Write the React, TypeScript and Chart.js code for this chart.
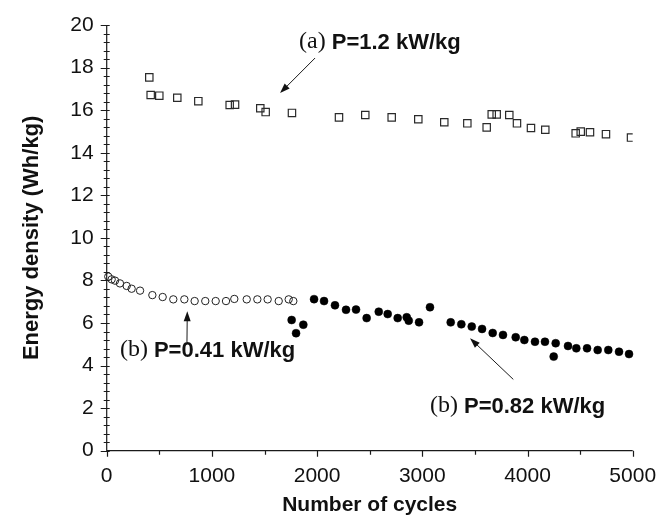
import React, { useEffect, useRef } from "react";
import { Chart, registerables } from "chart.js";

Chart.register(...registerables);

// P = 1.2 kW/kg (open squares)
const cyclesA = [405, 418, 500, 671, 871, 1169, 1220, 1460, 1511, 1761, 2208, 2458, 2709, 2962, 3209, 3428, 3612, 3660, 3707, 3827, 3900, 4033, 4169, 4458, 4506, 4594, 4746, 4984];
const energyA = [17.54, 16.71, 16.68, 16.58, 16.42, 16.24, 16.26, 16.09, 15.91, 15.87, 15.66, 15.77, 15.66, 15.57, 15.43, 15.38, 15.19, 15.8, 15.8, 15.77, 15.38, 15.16, 15.08, 14.91, 14.99, 14.96, 14.87, 14.71];

// P = 0.41 kW/kg (open circles)
const cyclesB1 = [15, 47, 79, 126, 190, 237, 317, 434, 532, 633, 738, 836, 937, 1036, 1134, 1213, 1331, 1432, 1530, 1635, 1730, 1774];
const energyB1 = [8.18, 8.05, 7.99, 7.86, 7.74, 7.61, 7.52, 7.31, 7.22, 7.11, 7.11, 7.03, 7.03, 7.03, 7.03, 7.13, 7.11, 7.11, 7.11, 7.03, 7.11, 7.03];

// P = 0.82 kW/kg (filled circles)
const cyclesB2 = [1758, 1800, 1869, 1971, 2066, 2170, 2275, 2370, 2471, 2586, 2671, 2766, 2852, 2871, 2969, 3073, 3270, 3371, 3470, 3568, 3669, 3767, 3888, 3970, 4071, 4166, 4249, 4268, 4385, 4464, 4566, 4667, 4768, 4870, 4965];
const energyB2 = [6.14, 5.52, 5.92, 7.12, 7.03, 6.83, 6.62, 6.63, 6.23, 6.53, 6.42, 6.23, 6.27, 6.11, 6.03, 6.74, 6.03, 5.94, 5.83, 5.72, 5.53, 5.44, 5.33, 5.2, 5.12, 5.12, 4.42, 5.05, 4.92, 4.81, 4.81, 4.73, 4.73, 4.65, 4.54];

const xTickValues = [0, 1000, 2000, 3000, 4000, 5000];
const yTickValues = [0, 2, 4, 6, 8, 10, 12, 14, 16, 18, 20];

const xTitle = "Number of cycles";
const yTitle = "Energy density (Wh/kg)";

// annotations in data units
const annoPrefix = ["(a)", "(b)", "(b)"];
const annoText = ["P=1.2 kW/kg", "P=0.41 kW/kg", "P=0.82 kW/kg"];
const annoTextX = [1829, 126, 3073];
const annoTextY = [19.2, 4.73, 2.1];
const annoTail = [[1981, 18.45], [763, 5.1], [3865, 3.35]];
const annoTip = [[1648, 16.8], [766, 6.55], [3454, 5.28]];

const toPts = (xs: number[], ys: number[]) => xs.map((x, i) => ({ x, y: ys[i] }));

const SANS = "'Liberation Sans', Arial, Helvetica, sans-serif";
const SERIF = "'Liberation Serif', 'Times New Roman', serif";

const axesPlugin = {
  id: "axesDraw",
  afterDraw(chart: any) {
    const { ctx, chartArea: a } = chart;
    const x = chart.scales.x;
    const y = chart.scales.y;
    ctx.save();
    ctx.strokeStyle = "#1a1a1a";
    ctx.lineWidth = 1.2;
    ctx.beginPath();
    ctx.moveTo(a.left, a.top);
    ctx.lineTo(a.left, a.bottom);
    ctx.lineTo(a.right, a.bottom);
    for (let i = 0; i <= 50; i++) {
      const v = i * 0.4;
      const py = Math.round(y.getPixelForValue(v)) + 0.5;
      const major = i % 5 === 0;
      ctx.moveTo(a.left - (major ? 6 : 3), py);
      ctx.lineTo(a.left + 3, py);
    }
    for (let i = 0; i <= 10; i++) {
      const v = i * 500;
      const px = Math.round(x.getPixelForValue(v)) + 0.5;
      const major = i % 2 === 0;
      ctx.moveTo(px, a.bottom);
      ctx.lineTo(px, a.bottom + (major ? 6 : 4));
    }
    ctx.stroke();

    ctx.fillStyle = "#111";
    ctx.font = `bold 21px ${SANS}`;
    ctx.textAlign = "center";
    ctx.textBaseline = "middle";
    ctx.fillText(xTitle, (a.left + a.right) / 2, 505);
    ctx.save();
    ctx.translate(32, (a.top + a.bottom) / 2);
    ctx.rotate(-Math.PI / 2);
    ctx.font = `bold 22px ${SANS}`;
    ctx.fillText(yTitle, 0, 0);
    ctx.restore();

    for (let k = 0; k < annoText.length; k++) {
      const tx = x.getPixelForValue(annoTextX[k]);
      const ty = y.getPixelForValue(annoTextY[k]);
      ctx.textAlign = "left";
      ctx.textBaseline = "middle";
      ctx.font = `24px ${SERIF}`;
      const pre = annoPrefix[k] + " ";
      ctx.fillText(pre, tx, ty);
      const w = ctx.measureText(pre).width;
      ctx.font = `bold 22px ${SANS}`;
      ctx.fillText(annoText[k], tx + w, ty + 0.5);

      const x0 = x.getPixelForValue(annoTail[k][0]);
      const y0 = y.getPixelForValue(annoTail[k][1]);
      const x1 = x.getPixelForValue(annoTip[k][0]);
      const y1 = y.getPixelForValue(annoTip[k][1]);
      const ang = Math.atan2(y1 - y0, x1 - x0);
      const hl = 10, hw = 3.5;
      ctx.beginPath();
      ctx.lineWidth = 1;
      ctx.moveTo(x0, y0);
      ctx.lineTo(x1 - Math.cos(ang) * hl * 0.8, y1 - Math.sin(ang) * hl * 0.8);
      ctx.stroke();
      ctx.beginPath();
      ctx.moveTo(x1, y1);
      ctx.lineTo(x1 - Math.cos(ang) * hl - Math.sin(ang) * hw, y1 - Math.sin(ang) * hl + Math.cos(ang) * hw);
      ctx.lineTo(x1 - Math.cos(ang) * hl + Math.sin(ang) * hw, y1 - Math.sin(ang) * hl - Math.cos(ang) * hw);
      ctx.closePath();
      ctx.fill();
    }
    ctx.restore();
  },
};

export default function App() {
  const ref = useRef<HTMLCanvasElement>(null);
  useEffect(() => {
    if (!ref.current) return;
    const chart = new Chart(ref.current, {
      type: "scatter",
      data: {
        datasets: [
          {
            data: toPts(cyclesA, energyA),
            pointStyle: "rect",
            pointRadius: 5.2,
            pointBorderWidth: 1.2,
            pointBorderColor: "#2a2a2a",
            pointBackgroundColor: "rgba(255,255,255,0)",
            showLine: false,
            clip: { left: 10, top: 10, right: 0, bottom: 10 },
          } as any,
          {
            data: toPts(cyclesB1, energyB1),
            pointStyle: "circle",
            pointRadius: 3.7,
            pointBorderWidth: 1,
            pointBorderColor: "#222",
            pointBackgroundColor: "rgba(255,255,255,0)",
            showLine: false,
            clip: 10,
          } as any,
          {
            data: toPts(cyclesB2, energyB2),
            pointStyle: "circle",
            pointRadius: 4,
            pointBorderWidth: 0.5,
            pointBorderColor: "#000",
            pointBackgroundColor: "#000",
            showLine: false,
            clip: 10,
          } as any,
        ],
      },
      options: {
        responsive: false,
        animation: false,
        events: [],
        layout: { padding: { top: 25, right: 25.3, left: 0, bottom: 0 } },
        plugins: { legend: { display: false }, tooltip: { enabled: false } },
        scales: {
          x: {
            type: "linear",
            min: 0,
            max: 5000,
            afterBuildTicks: (s: any) => {
              s.ticks = xTickValues.map((v) => ({ value: v }));
            },
            ticks: {
              padding: 13,
              color: "#111",
              font: { family: SANS, size: 21 },
              maxRotation: 0,
              callback: (v: any) => String(v),
            },
            grid: { display: false, drawTicks: false },
            border: { display: false },
            afterFit: (s: any) => {
              s.height = 75.3;
              s.paddingLeft = 0;
              s.paddingRight = 0;
            },
          },
          y: {
            type: "linear",
            min: 0,
            max: 20,
            afterBuildTicks: (s: any) => {
              s.ticks = yTickValues.map((v) => ({ value: v }));
            },
            ticks: { padding: 13, color: "#111", font: { family: SANS, size: 21 }, callback: (v: any) => String(v) },
            grid: { display: false, drawTicks: false },
            border: { display: false },
            afterFit: (s: any) => {
              s.width = 106.7;
              s.paddingTop = 0;
              s.paddingBottom = 0;
            },
          },
        },
      } as any,
      plugins: [axesPlugin],
    });
    return () => chart.destroy();
  }, []);
  return (
    <div style={{ position: "fixed", left: 0, top: 0, width: 658, height: 526, background: "#fff" }}>
      <canvas ref={ref} width={658} height={526} style={{ display: "block", width: 658, height: 526 }} />
    </div>
  );
}
